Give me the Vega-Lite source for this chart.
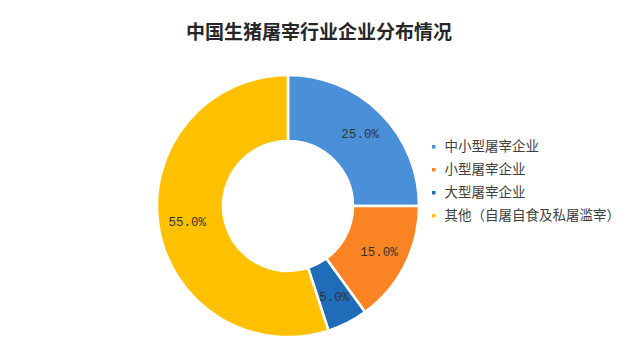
{
  "$schema": "https://vega.github.io/schema/vega-lite/v6.json",
  "autosize": "none",
  "width": 262,
  "height": 262,
  "padding": {"left": 157, "top": 75, "right": 213, "bottom": 22},
  "background": "white",
  "title": {
    "text": "中国生猪屠宰行业企业分布情况",
    "font": "Noto Sans CJK SC",
    "fontSize": 19,
    "fontWeight": "bold",
    "color": "#262626",
    "dx": 31,
    "offset": 27
  },
  "data": {
    "values": [
      {"category": "中小型屠宰企业", "share": 25, "label": "25.0%", "idx": 1},
      {"category": "小型屠宰企业", "share": 15, "label": "15.0%", "idx": 2},
      {"category": "大型屠宰企业", "share": 5, "label": "5.0%", "idx": 3},
      {"category": "其他（自屠自食及私屠滥宰）", "share": 55, "label": "55.0%", "idx": 4}
    ]
  },
  "encoding": {
    "theta": {"field": "share", "type": "quantitative", "stack": true},
    "order": {"field": "idx", "type": "ordinal"},
    "color": {
      "field": "category",
      "type": "nominal",
      "scale": {
        "domain": ["中小型屠宰企业", "小型屠宰企业", "大型屠宰企业", "其他（自屠自食及私屠滥宰）"],
        "range": ["#4A90D9", "#FA8424", "#1F6CB8", "#FFC000"]
      },
      "legend": {
        "title": null,
        "orient": "none",
        "legendX": 270,
        "legendY": 65,
        "symbolType": "square",
        "symbolSize": 25,
        "labelFont": "Noto Sans CJK SC",
        "labelFontSize": 13.5,
        "labelColor": "#404040",
        "labelOffset": 4,
        "labelLimit": 300,
        "rowPadding": 8
      }
    }
  },
  "layer": [
    {
      "mark": {"type": "arc", "outerRadius": 131, "innerRadius": 65, "stroke": "white", "strokeWidth": 2.5}
    },
    {
      "mark": {"type": "text", "radius": 102, "font": "Liberation Mono", "fontSize": 12.5, "color": "#333333"},
      "encoding": {
        "text": {"field": "label", "type": "nominal"},
        "color": {"value": "#333333"}
      }
    }
  ],
  "config": {"view": {"stroke": null}}
}
